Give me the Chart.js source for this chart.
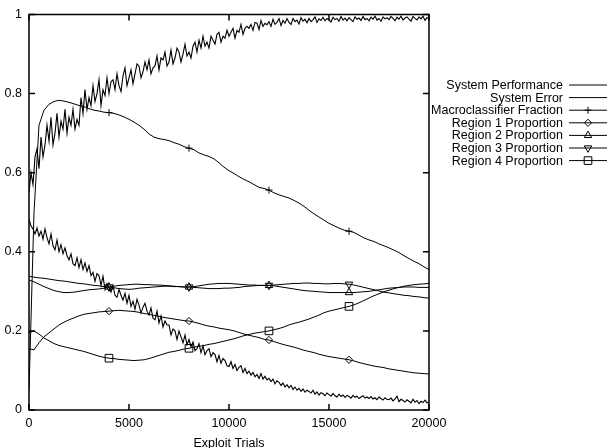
<!DOCTYPE html>
<html lang="en">
<head>
<meta charset="UTF-8">
<title>Exploit Trials</title>
<script src="https://cdn.jsdelivr.net/npm/chart.js"></script>
<style>
  html, body { margin: 0; padding: 0; background: #fff; }
  #chart { display: block; }
</style>
</head>
<body>
<canvas id="chart" width="610" height="448"></canvas>
<script>
// sampling of the runs (trials between stored values)
const fineStep = 100;
const coarseStep = 250;
const markerTrials = [4000, 8000, 12000, 16000];
const xTicks = [0, 5000, 10000, 15000, 20000];
const xTickLabels = ['0', '5000', '10000', '15000', '20000'];
const yTicks = [0, 0.2, 0.4, 0.6, 0.8, 1];
const yTickLabels = ['0', '0.2', '0.4', '0.6', '0.8', '1'];

const seriesNames = [
  'System Performance', 'System Error', 'Macroclassifier Fraction',
  'Region 1 Proportion', 'Region 2 Proportion', 'Region 3 Proportion', 'Region 4 Proportion'
];

// one row = 1000 trials
const systemPerformance = [
  0.55, 0.60, 0.57, 0.64, 0.66, 0.61, 0.69, 0.64, 0.67, 0.72,
  0.68, 0.74, 0.67, 0.70, 0.75, 0.69, 0.73, 0.71, 0.76, 0.70,
  0.74, 0.72, 0.76, 0.71, 0.735, 0.72, 0.79, 0.75, 0.81, 0.76,
  0.79, 0.77, 0.82, 0.78, 0.80, 0.835, 0.77, 0.81, 0.795, 0.84,
  0.80, 0.83, 0.835, 0.81, 0.85, 0.82, 0.805, 0.845, 0.865, 0.82,
  0.84, 0.86, 0.825, 0.85, 0.875, 0.87, 0.84, 0.855, 0.88, 0.86,
  0.885, 0.85, 0.865, 0.87, 0.895, 0.86, 0.89, 0.885, 0.905, 0.87,
  0.88, 0.91, 0.875, 0.89, 0.915, 0.905, 0.88, 0.90, 0.925, 0.895,
  0.905, 0.89, 0.92, 0.93, 0.905, 0.935, 0.915, 0.945, 0.92, 0.93,
  0.915, 0.945, 0.935, 0.925, 0.95, 0.955, 0.93, 0.945, 0.94, 0.96,
  0.945, 0.955, 0.965, 0.94, 0.96, 0.955, 0.975, 0.95, 0.965, 0.97,
  0.965, 0.975, 0.96, 0.98, 0.978, 0.962, 0.985, 0.97, 0.978, 0.974,
  0.982, 0.97, 0.988, 0.975, 0.98, 0.99, 0.972, 0.985, 0.978, 0.99,
  0.98, 0.975, 0.99, 0.982, 0.986, 0.976, 0.992, 0.983, 0.988, 0.979,
  0.99, 0.982, 0.987, 0.994, 0.98, 0.989, 0.985, 0.993, 0.984, 0.99,
  0.986, 0.981, 0.993, 0.987, 0.99, 0.983, 0.995, 0.986, 0.991, 0.984,
  0.992, 0.987, 0.982, 0.994, 0.988, 0.991, 0.985, 0.995, 0.987, 0.99,
  0.984, 0.993, 0.988, 0.996, 0.986, 0.99, 0.983, 0.994, 0.989, 0.992,
  0.987, 0.995, 0.99, 0.984, 0.993, 0.988, 0.996, 0.986, 0.991, 0.994,
  0.988, 0.983, 0.995, 0.99, 0.986, 0.994, 0.989, 0.996, 0.985, 0.992,
  0.99
];

const systemError = [
  0.483, 0.465, 0.458, 0.445, 0.46, 0.44, 0.452, 0.432, 0.458, 0.436,
  0.42, 0.445, 0.415, 0.405, 0.43, 0.40, 0.418, 0.395, 0.41, 0.39,
  0.38, 0.395, 0.37, 0.365, 0.385, 0.36, 0.38, 0.355, 0.372, 0.35,
  0.365, 0.34, 0.348, 0.325, 0.345, 0.34, 0.315, 0.338, 0.305, 0.32,
  0.31, 0.298, 0.315, 0.29, 0.285, 0.305, 0.29, 0.278, 0.295, 0.27,
  0.29, 0.262, 0.275, 0.255, 0.28, 0.265, 0.245, 0.26, 0.27, 0.25,
  0.24, 0.258, 0.232, 0.228, 0.25, 0.22, 0.238, 0.21, 0.225, 0.215,
  0.215, 0.19, 0.205, 0.20, 0.178, 0.20, 0.185, 0.17, 0.19, 0.165,
  0.178, 0.16, 0.172, 0.15, 0.155, 0.168, 0.145, 0.162, 0.14, 0.15,
  0.155, 0.135, 0.145, 0.14, 0.122, 0.138, 0.118, 0.13, 0.125, 0.112,
  0.11, 0.122, 0.105, 0.115, 0.10, 0.108, 0.112, 0.095, 0.105, 0.092,
  0.098, 0.088, 0.095, 0.084, 0.09, 0.08, 0.092, 0.078, 0.085, 0.076,
  0.08, 0.072, 0.078, 0.066, 0.074, 0.07, 0.062, 0.068, 0.058, 0.064,
  0.056, 0.062, 0.052, 0.058, 0.05, 0.055, 0.047, 0.053, 0.045, 0.05,
  0.047, 0.043, 0.05, 0.04, 0.046, 0.038, 0.044, 0.041, 0.036, 0.043,
  0.039, 0.035, 0.042, 0.036, 0.033, 0.04, 0.034, 0.038, 0.032, 0.037,
  0.034, 0.03, 0.037, 0.032, 0.035, 0.029, 0.033, 0.036, 0.03, 0.033,
  0.029, 0.034, 0.028, 0.031, 0.026, 0.033, 0.029, 0.025, 0.031, 0.027,
  0.026, 0.03, 0.023, 0.028, 0.035, 0.021, 0.027, 0.024, 0.02, 0.026,
  0.022, 0.018, 0.027, 0.02, 0.024, 0.016, 0.022, 0.019, 0.025, 0.018,
  0.02
];

// one row = 1000 trials
const macroFraction = [
  0.05, 0.5, 0.72, 0.758,
  0.773, 0.78, 0.783, 0.781,
  0.778, 0.774, 0.77, 0.767,
  0.762, 0.758, 0.756, 0.753,
  0.752, 0.75, 0.746, 0.741,
  0.735, 0.728, 0.72, 0.71,
  0.698, 0.69, 0.686, 0.684,
  0.681, 0.676, 0.672, 0.666,
  0.662, 0.658, 0.65, 0.645,
  0.641, 0.635, 0.625, 0.614,
  0.605, 0.598, 0.59, 0.583,
  0.577, 0.57, 0.563, 0.56,
  0.556, 0.549, 0.544, 0.54,
  0.536, 0.53, 0.523, 0.515,
  0.505, 0.496, 0.488, 0.48,
  0.472, 0.466, 0.46, 0.455,
  0.452, 0.449, 0.442, 0.435,
  0.43, 0.426, 0.42, 0.415,
  0.41, 0.404, 0.398, 0.39,
  0.383, 0.376, 0.37, 0.362,
  0.355
];

const region1 = [
  0.155, 0.152, 0.17, 0.185,
  0.195, 0.205, 0.215, 0.222,
  0.228, 0.233, 0.238, 0.242,
  0.244, 0.246, 0.248, 0.249,
  0.25, 0.251, 0.252, 0.251,
  0.25, 0.249, 0.247, 0.244,
  0.242, 0.239, 0.237, 0.234,
  0.232, 0.23, 0.228, 0.226,
  0.225, 0.222, 0.219, 0.215,
  0.212, 0.21, 0.207, 0.205,
  0.203, 0.20, 0.196, 0.192,
  0.189, 0.186, 0.183, 0.179,
  0.177, 0.173, 0.169, 0.165,
  0.162, 0.159, 0.155, 0.151,
  0.148, 0.145, 0.141, 0.138,
  0.135, 0.133, 0.131, 0.129,
  0.127, 0.124, 0.12, 0.117,
  0.114, 0.111, 0.109, 0.107,
  0.104, 0.102, 0.10, 0.098,
  0.096, 0.094, 0.093, 0.092,
  0.091
];

const region2 = [
  0.329, 0.324, 0.318, 0.312,
  0.307, 0.302, 0.299, 0.297,
  0.297, 0.298, 0.30, 0.302,
  0.304, 0.305, 0.306, 0.308,
  0.311, 0.313, 0.315, 0.316,
  0.317, 0.318, 0.318, 0.317,
  0.317, 0.316, 0.316, 0.315,
  0.314, 0.313, 0.312, 0.311,
  0.311, 0.312, 0.314, 0.316,
  0.318, 0.319, 0.32, 0.32,
  0.32, 0.319, 0.318, 0.317,
  0.316, 0.316, 0.315, 0.315,
  0.315, 0.314, 0.312, 0.31,
  0.308, 0.306, 0.304, 0.302,
  0.301, 0.30, 0.299, 0.298,
  0.297, 0.297, 0.297, 0.297,
  0.297, 0.297, 0.298, 0.299,
  0.30, 0.302, 0.304, 0.306,
  0.308, 0.309, 0.31, 0.311,
  0.311, 0.311, 0.31, 0.31,
  0.31
];

const region3 = [
  0.338, 0.336, 0.334, 0.333,
  0.331, 0.329, 0.327, 0.326,
  0.324, 0.322, 0.32, 0.319,
  0.317, 0.315, 0.314, 0.312,
  0.311, 0.309, 0.307, 0.306,
  0.305, 0.306, 0.308, 0.309,
  0.31, 0.311, 0.312, 0.313,
  0.313, 0.312, 0.312, 0.311,
  0.311, 0.31, 0.309, 0.308,
  0.307, 0.307, 0.307, 0.308,
  0.308, 0.309, 0.31, 0.312,
  0.313, 0.314, 0.315, 0.315,
  0.315, 0.316, 0.317, 0.318,
  0.319, 0.32, 0.32, 0.321,
  0.321, 0.32, 0.32, 0.319,
  0.319, 0.32, 0.32, 0.319,
  0.318, 0.316, 0.313, 0.31,
  0.307, 0.304, 0.301, 0.298,
  0.296, 0.294, 0.292, 0.29,
  0.289, 0.287, 0.286, 0.284,
  0.283
];

const region4 = [
  0.195, 0.20, 0.192, 0.182,
  0.175, 0.168, 0.163, 0.16,
  0.157, 0.154, 0.151, 0.148,
  0.144, 0.14, 0.136, 0.133,
  0.131, 0.13, 0.128, 0.127,
  0.126, 0.125, 0.126, 0.127,
  0.13, 0.134, 0.138, 0.142,
  0.146, 0.148, 0.151, 0.154,
  0.156, 0.159, 0.161, 0.163,
  0.166, 0.168, 0.171, 0.174,
  0.177, 0.18, 0.184, 0.188,
  0.191, 0.194, 0.196, 0.198,
  0.20, 0.203, 0.206, 0.21,
  0.215, 0.219, 0.222, 0.226,
  0.23, 0.235, 0.24, 0.246,
  0.25, 0.253, 0.256, 0.259,
  0.262, 0.266, 0.271, 0.277,
  0.283, 0.289, 0.294, 0.299,
  0.303, 0.307, 0.31, 0.313,
  0.315, 0.317, 0.318, 0.319,
  0.32
];

const FONT = 'Liberation Sans, Arial, Helvetica, sans-serif';

function toPoints(values, step) {
  return values.map((v, i) => ({ x: i * step, y: v }));
}

// point marks only at the marker trials
function markerRadius(r) {
  return ctx => (ctx.raw && markerTrials.includes(ctx.raw.x)) ? r : 0;
}

const markerDefs = [
  null,
  null,
  { style: 'cross', radius: 3.5, rotation: 0 },
  { style: 'rectRot', radius: 3.6, rotation: 0 },
  { style: 'triangle', radius: 4.3, rotation: 0 },
  { style: 'triangle', radius: 4.3, rotation: 180 },
  { style: 'rect', radius: 5.4, rotation: 0 }
];

const seriesData = [
  toPoints(systemPerformance, fineStep),
  toPoints(systemError, fineStep),
  toPoints(macroFraction, coarseStep),
  toPoints(region1, coarseStep),
  toPoints(region2, coarseStep),
  toPoints(region3, coarseStep),
  toPoints(region4, coarseStep)
];

const datasets = seriesData.map((data, i) => {
  const m = markerDefs[i];
  return {
    label: seriesNames[i],
    data: data,
    borderColor: '#000',
    borderWidth: m ? 1 : 1.1,
    backgroundColor: '#000',
    tension: 0,
    pointStyle: m ? m.style : false,
    pointRotation: m ? m.rotation : 0,
    pointRadius: m ? markerRadius(m.radius) : 0,
    pointBorderColor: '#000',
    pointBorderWidth: 1,
    pointBackgroundColor: 'rgba(0,0,0,0)'
  };
});

function drawMarker(ctx, m, x, y) {
  const r = m.radius;
  ctx.beginPath();
  if (m.style === 'cross') {
    ctx.moveTo(x - r, y); ctx.lineTo(x + r, y);
    ctx.moveTo(x, y - r); ctx.lineTo(x, y + r);
  } else if (m.style === 'rectRot') {
    ctx.moveTo(x - r, y); ctx.lineTo(x, y - r); ctx.lineTo(x + r, y); ctx.lineTo(x, y + r); ctx.closePath();
  } else if (m.style === 'rect') {
    const h = r * Math.SQRT1_2;
    ctx.rect(x - h, y - h, 2 * h, 2 * h);
  } else if (m.style === 'triangle') {
    const s = m.rotation ? -1 : 1;
    ctx.moveTo(x, y - s * r);
    ctx.lineTo(x + r * 0.866, y + s * r * 0.5);
    ctx.lineTo(x - r * 0.866, y + s * r * 0.5);
    ctx.closePath();
  }
  ctx.stroke();
}

// gnuplot style frame, inward ticks on all four sides, key on the right
const gnuplotFrame = {
  id: 'gnuplotFrame',
  afterDraw(chart) {
    const { ctx, chartArea: a, scales: { x, y } } = chart;
    ctx.save();
    ctx.strokeStyle = '#000';
    ctx.lineWidth = 1.5;
    ctx.strokeRect(a.left, a.top, a.right - a.left, a.bottom - a.top);
    const len = 6;
    ctx.beginPath();
    xTicks.forEach(v => {
      const px = x.getPixelForValue(v);
      ctx.moveTo(px, a.bottom); ctx.lineTo(px, a.bottom - len);
      ctx.moveTo(px, a.top); ctx.lineTo(px, a.top + len);
    });
    yTicks.forEach(v => {
      const py = y.getPixelForValue(v);
      ctx.moveTo(a.left, py); ctx.lineTo(a.left + len, py);
      ctx.moveTo(a.right, py); ctx.lineTo(a.right - len, py);
    });
    ctx.stroke();

    // key
    ctx.font = '12.5px ' + FONT;
    ctx.fillStyle = '#000';
    ctx.textAlign = 'right';
    ctx.textBaseline = 'middle';
    ctx.lineWidth = 1;
    seriesNames.forEach((name, i) => {
      const ty = 85 + i * 12.6;
      ctx.fillText(name, 563, ty + 0.5);
      ctx.beginPath();
      ctx.moveTo(569, ty); ctx.lineTo(607, ty);
      ctx.stroke();
      if (markerDefs[i]) drawMarker(ctx, markerDefs[i], 588, ty);
    });
    ctx.restore();
  }
};

new Chart(document.getElementById('chart').getContext('2d'), {
  type: 'line',
  data: { datasets: datasets },
  plugins: [gnuplotFrame],
  options: {
    responsive: false,
    animation: false,
    devicePixelRatio: 1,
    layout: { padding: { top: 10, right: 181, left: 0, bottom: 0 } },
    plugins: { legend: { display: false }, tooltip: { enabled: false } },
    scales: {
      x: {
        type: 'linear',
        min: 0,
        max: 20000,
        afterFit: s => { s.height = 38; },
        afterBuildTicks: s => { s.ticks = xTicks.map(v => ({ value: v })); },
        grid: { display: false, drawTicks: false, tickLength: 0 },
        border: { display: false },
        ticks: {
          color: '#000',
          font: { family: FONT, size: 12.5 },
          padding: 6,
          maxRotation: 0,
          callback: (v, i) => xTickLabels[i]
        },
        title: {
          display: true,
          text: 'Exploit Trials',
          color: '#000',
          font: { family: FONT, size: 12.5 },
          padding: { top: 0, bottom: -3 }
        }
      },
      y: {
        min: 0,
        max: 1,
        afterFit: s => { s.width = 29; },
        afterBuildTicks: s => { s.ticks = yTicks.map(v => ({ value: v })); },
        grid: { display: false, drawTicks: false, tickLength: 0 },
        border: { display: false },
        ticks: {
          color: '#000',
          font: { family: FONT, size: 12.5 },
          padding: 7,
          callback: (v, i) => yTickLabels[i]
        }
      }
    }
  }
});
</script>
</body>
</html>
